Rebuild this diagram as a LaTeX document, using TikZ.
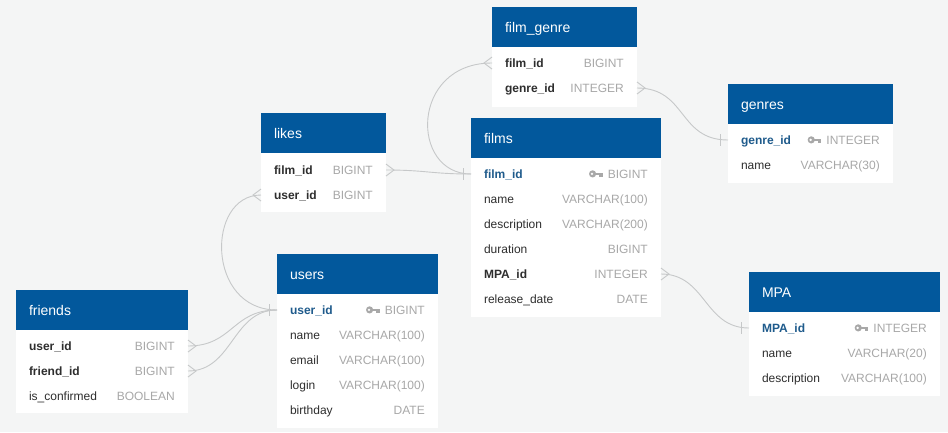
\documentclass[tikz,border=0pt]{standalone}
\usepackage{fontspec}
\setmainfont{Liberation Sans}
\usetikzlibrary{calc,positioning}
\definecolor{canvas}{HTML}{F4F5F5}
\definecolor{head}{HTML}{02589C}
\definecolor{pkblue}{HTML}{1F5B8C}
\definecolor{ink}{HTML}{2E2E2E}
\definecolor{muted}{HTML}{A8A8A8}
\definecolor{wire}{HTML}{C6C8C9}
\tikzset{
  headbox/.style={fill=head,text=white,anchor=north west,text width=#1,align=left,inner xsep=13pt,inner ysep=0pt,minimum height=40pt,outer sep=0pt,text height=12pt,text depth=1pt,font=\fontsize{14}{16}\selectfont},
  field/.style={anchor=west,text width=#1,align=left,inner xsep=13pt,inner ysep=0pt,minimum height=25pt,outer sep=0pt,text height=10pt,text depth=2pt,text=ink,font=\fontsize{12}{14}\selectfont},
  pk/.style={text=pkblue,font=\fontsize{12}{14}\selectfont\bfseries},
  fk/.style={font=\fontsize{12}{14}\selectfont\bfseries},
  plain/.style={},
  sqltype/.style={anchor=base east,inner sep=0pt,text=muted,font=\fontsize{12}{14}\selectfont},
  rel/.style={draw=wire,line width=0.9pt},
  many/.pic={\draw[rel] (0,-6) -- (8,0) -- (0,6);},
  one/.pic={\draw[rel] (8,-6) -- (8,6);},
  pkey/.pic={
    \fill[muted] (-10,0) circle (3.6);
    \fill[white] (-10.6,0) circle (1.3);
    \fill[muted] (-7,-1.2) rectangle (0,1.2);
    \fill[muted] (-3.6,1.2) rectangle (0,3.4);
  }
}

\begin{document}
\begin{tikzpicture}[x=1pt,y=-1pt]
  \fill[canvas] (0,0) rectangle (948,432);
  \useasboundingbox (0,0) rectangle (948,432);

  % film_genre
  \node[headbox=119pt] (filmgenre) at (492,7) {film\_genre};
  \fill[white] (filmgenre.south west) rectangle ($(filmgenre.south east)+(0,60)$);
  \foreach \k/\lab/\typ/\sty [count=\i from 0] in {film/film\_id/BIGINT/fk, genre/genre\_id/INTEGER/fk} {
    \node[field=119pt,\sty] (fg-\k) at ($(filmgenre.south west)+(0,{16+25*\i})$) {\lab};
    \node[sqltype] (fg-\k-t) at ([xshift=-13pt]fg-\k.base east) {\typ};
  }

  % genres
  \node[headbox=139pt] (genres) at (728,84) {genres};
  \fill[white] (genres.south west) rectangle ($(genres.south east)+(0,59)$);
  \foreach \k/\lab/\typ/\sty [count=\i from 0] in {genre/genre\_id/INTEGER/pk, name/name/VARCHAR(30)/plain} {
    \node[field=139pt,\sty] (ge-\k) at ($(genres.south west)+(0,{16+25*\i})$) {\lab};
    \node[sqltype] (ge-\k-t) at ([xshift=-13pt]ge-\k.base east) {\typ};
  }

  % likes
  \node[headbox=99pt] (likes) at (261,113) {likes};
  \fill[white] (likes.south west) rectangle ($(likes.south east)+(0,59)$);
  \foreach \k/\lab/\typ/\sty [count=\i from 0] in {film/film\_id/BIGINT/fk, user/user\_id/BIGINT/fk} {
    \node[field=99pt,\sty] (lk-\k) at ($(likes.south west)+(0,{17+25*\i})$) {\lab};
    \node[sqltype] (lk-\k-t) at ([xshift=-13pt]lk-\k.base east) {\typ};
  }

  % films
  \node[headbox=164pt] (films) at (471,118) {films};
  \fill[white] (films.south west) rectangle ($(films.south east)+(0,159)$);
  \foreach \k/\lab/\typ/\sty [count=\i from 0] in {film/film\_id/BIGINT/pk, name/name/VARCHAR(100)/plain, desc/description/VARCHAR(200)/plain, dur/duration/BIGINT/plain, mpa/MPA\_id/INTEGER/fk, rel/release\_date/DATE/plain} {
    \node[field=164pt,\sty] (fl-\k) at ($(films.south west)+(0,{16+25*\i})$) {\lab};
    \node[sqltype] (fl-\k-t) at ([xshift=-13pt]fl-\k.base east) {\typ};
  }

  % users
  \node[headbox=135pt] (users) at (277,254) {users};
  \fill[white] (users.south west) rectangle ($(users.south east)+(0,134)$);
  \foreach \k/\lab/\typ/\sty [count=\i from 0] in {user/user\_id/BIGINT/pk, name/name/VARCHAR(100)/plain, email/email/VARCHAR(100)/plain, login/login/VARCHAR(100)/plain, bday/birthday/DATE/plain} {
    \node[field=135pt,\sty] (us-\k) at ($(users.south west)+(0,{16+25*\i})$) {\lab};
    \node[sqltype] (us-\k-t) at ([xshift=-13pt]us-\k.base east) {\typ};
  }

  % friends
  \node[headbox=146pt] (friends) at (16,290) {friends};
  \fill[white] (friends.south west) rectangle ($(friends.south east)+(0,83)$);
  \foreach \k/\lab/\typ/\sty [count=\i from 0] in {user/user\_id/BIGINT/fk, friend/friend\_id/BIGINT/fk, conf/is\_confirmed/BOOLEAN/plain} {
    \node[field=146pt,\sty] (fr-\k) at ($(friends.south west)+(0,{16+25*\i})$) {\lab};
    \node[sqltype] (fr-\k-t) at ([xshift=-13pt]fr-\k.base east) {\typ};
  }

  % MPA
  \node[headbox=165pt] (mpa) at (749,272) {MPA};
  \fill[white] (mpa.south west) rectangle ($(mpa.south east)+(0,84)$);
  \foreach \k/\lab/\typ/\sty [count=\i from 0] in {mpa/MPA\_id/INTEGER/pk, name/name/VARCHAR(20)/plain, desc/description/VARCHAR(100)/plain} {
    \node[field=165pt,\sty] (mp-\k) at ($(mpa.south west)+(0,{16+25*\i})$) {\lab};
    \node[sqltype] (mp-\k-t) at ([xshift=-13pt]mp-\k.base east) {\typ};
  }

  % primary keys
  \foreach \t in {ge-genre-t,fl-film-t,us-user-t,mp-mpa-t}
    \pic at ([xshift=-5pt]\t.west) {pkey};

  % relations
  \draw[rel] (fg-film.west) .. controls +(-82,0) and +(-61,0) .. (fl-film.west);
  \draw[rel] (fg-genre.east) .. controls +(50,0) and +(-50,0) .. (ge-genre.west);
  \draw[rel] (lk-film.east) .. controls +(40,0) and +(-40,0) .. (fl-film.west);
  \draw[rel] (lk-user.west) .. controls +(-55,0) and +(-71,0) .. (us-user.west);
  \draw[rel] (fr-user.east) .. controls +(45,0) and +(-45,0) .. (us-user.west);
  \draw[rel] (fr-friend.east) .. controls +(45,0) and +(-45,0) .. (us-user.west);
  \draw[rel] (fl-mpa.east) .. controls +(45,0) and +(-45,0) .. (mp-mpa.west);

  \foreach \e in {fg-genre.east,lk-film.east,fr-user.east,fr-friend.east,fl-mpa.east}
    \pic at (\e) {many};
  \foreach \e in {fg-film.west,lk-user.west}
    \pic[xscale=-1] at (\e) {many};
  \foreach \e in {fl-film.west,ge-genre.west,us-user.west,mp-mpa.west}
    \pic[xscale=-1] at (\e) {one};
\end{tikzpicture}
\end{document}
